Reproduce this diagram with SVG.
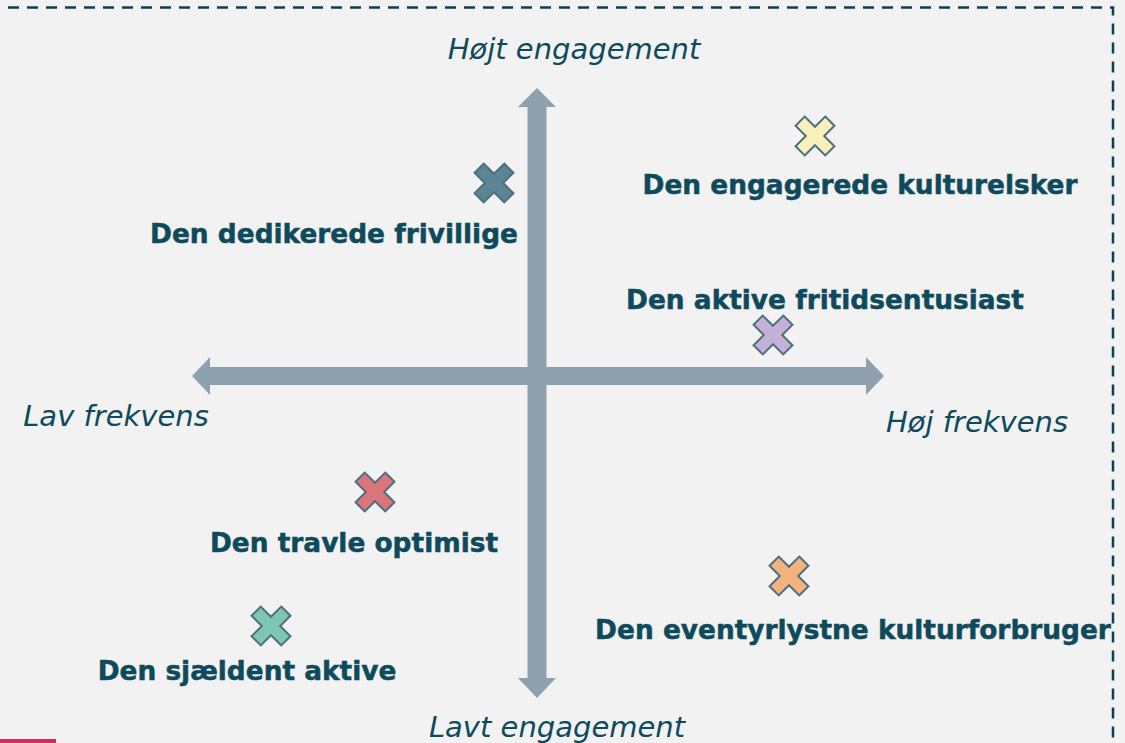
<svg xmlns="http://www.w3.org/2000/svg" xmlns:xlink="http://www.w3.org/1999/xlink" width="1125" height="743" viewBox="0 0 1125 743">
<style>
.lbl{font-family:"DejaVu Sans",Verdana,sans-serif;font-weight:bold;font-size:26.4px;fill:#0e4a5c;stroke:#0e4a5c;stroke-width:0.5;text-anchor:middle}
.ax{font-family:"DejaVu Sans",Verdana,sans-serif;font-style:italic;font-size:29px;fill:#0e4a5c;text-anchor:middle}
.arrow{fill:#8fa1ae}
.x{stroke:#4f6f7f;stroke-width:2;stroke-linejoin:miter}
</style>
<defs>
<path id="cross" d="M-6.5,-21 L6.5,-21 L6.5,-6.5 L21,-6.5 L21,6.5 L6.5,6.5 L6.5,21 L-6.5,21 L-6.5,6.5 L-21,6.5 L-21,-6.5 L-6.5,-6.5 Z"/>
</defs>
<rect width="1125" height="743" fill="#f2f2f2"/>
<path d="M-11,7.5 H1113 V743" fill="none" stroke="#0f3e50" stroke-width="2.5" stroke-dasharray="11 8"/>
<rect x="0" y="739" width="56" height="4" fill="#db2760"/>
<g id="connectors">
<polygon class="arrow" points="210,367 210,357 192,376 210,395 210,385 866,385 866,395 884,376 866,357 866,367"/>
<polygon class="arrow" points="527.5,107 518,107 537,88 556,107 546.5,107 546.5,678 556,678 537,698 518,678 527.5,678"/>
</g>
<g id="axis-labels">
<text class="ax" x="574" y="58.5">Højt engagement</text>
<text class="ax" x="116" y="425.5">Lav frekvens</text>
<text class="ax" x="977" y="431.5">Høj frekvens</text>
<text class="ax" x="557" y="736.5">Lavt engagement</text>
</g>
<g id="node-dedikerede">
<use xlink:href="#cross" class="x" fill="#5b8595" transform="translate(494,183) rotate(45)"/>
<text class="lbl" x="334" y="242.5">Den dedikerede frivillige</text>
</g>
<g id="node-engagerede">
<use xlink:href="#cross" class="x" fill="#f7f0b8" transform="translate(815,136) rotate(45)"/>
<text class="lbl" x="860" y="193.5">Den engagerede kulturelsker</text>
</g>
<g id="node-aktive">
<use xlink:href="#cross" class="x" fill="#c5b1d8" transform="translate(773,335) rotate(45)"/>
<text class="lbl" x="825" y="308.5">Den aktive fritidsentusiast</text>
</g>
<g id="node-travle">
<use xlink:href="#cross" class="x" fill="#d9757b" transform="translate(375,492) rotate(45)"/>
<text class="lbl" x="354" y="551.5">Den travle optimist</text>
</g>
<g id="node-eventyrlystne">
<use xlink:href="#cross" class="x" fill="#f4b27c" transform="translate(789,576) rotate(45)"/>
<text class="lbl" x="853" y="638.5">Den eventyrlystne kulturforbruger</text>
</g>
<g id="node-sjaeldent">
<use xlink:href="#cross" class="x" fill="#7fc6b2" transform="translate(271,626) rotate(45)"/>
<text class="lbl" x="247" y="679.5">Den sjældent aktive</text>
</g>
</svg>
